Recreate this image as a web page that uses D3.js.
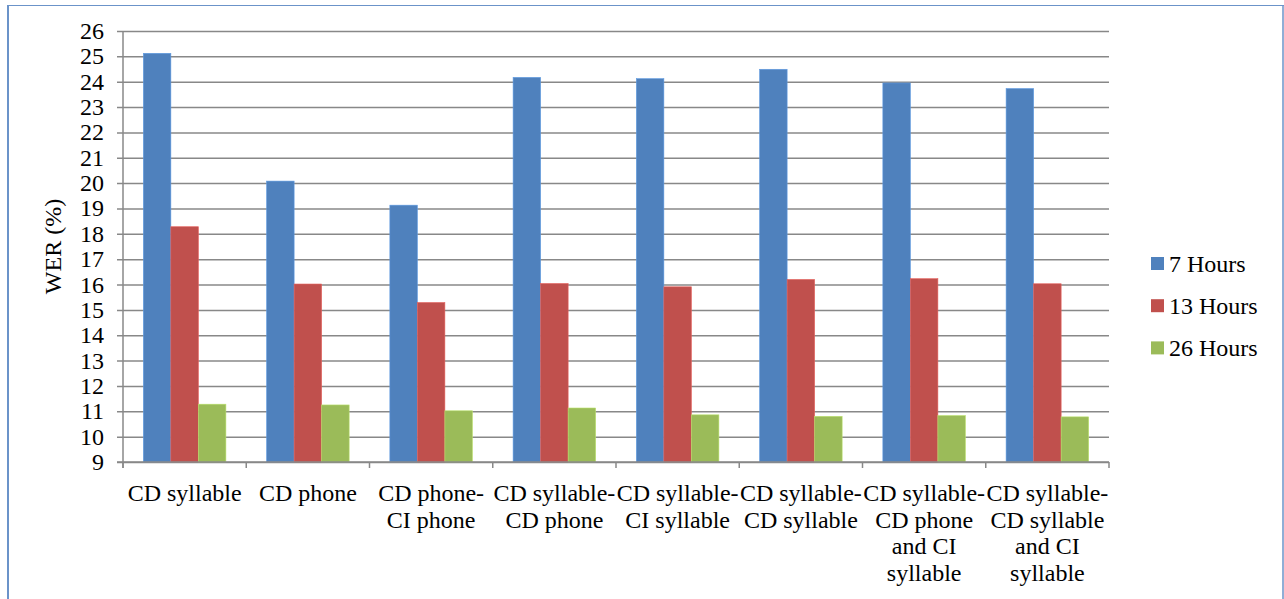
<!DOCTYPE html>
<html>
<head>
<meta charset="utf-8">
<script src="https://cdn.jsdelivr.net/npm/d3@7"></script>
<style>
  text { font-family: "Liberation Serif", "Times New Roman", Tinos, serif !important; }
</style>
</head>
<body style="margin:0;background:#fff">
<svg id="chart" width="1284" height="599" style="display:block" font-family="Liberation Serif"></svg>
<script>
// Acoustic unit configurations (x categories), one label line per entry
const categories = [
  "CD syllable",
  "CD phone",
  "CD phone-CI phone",
  "CD syllable-CD phone",
  "CD syllable-CI syllable",
  "CD syllable-CD syllable",
  "CD syllable-CD phone and CI syllable",
  "CD syllable-CD syllable and CI syllable"
];
const categoryLines = [
  ["CD syllable"],
  ["CD phone"],
  ["CD phone-", "CI phone"],
  ["CD syllable-", "CD phone"],
  ["CD syllable-", "CI syllable"],
  ["CD syllable-", "CD syllable"],
  ["CD syllable-", "CD phone", "and CI", "syllable"],
  ["CD syllable-", "CD syllable", "and CI", "syllable"]
];

// Training data sizes (series)
const seriesNames = ["7 Hours", "13 Hours", "26 Hours"];
const seriesColors = ["#4F81BD", "#C0504D", "#9BBB59"];

// WER (%) per configuration for each training size
const wer7h  = [25.12, 20.08, 19.13, 24.17, 24.12, 24.49, 23.95, 23.73];
const wer13h = [18.28, 16.02, 15.29, 16.04, 15.91, 16.20, 16.23, 16.03];
const wer26h = [11.28, 11.25, 11.02, 11.13, 10.86, 10.80, 10.83, 10.78];

// Y axis tick labels
const yTicks = [9, 10, 11, 12, 13, 14, 15, 16, 17, 18, 19, 20, 21, 22, 23, 24, 25, 26];

const seriesValues = [wer7h, wer13h, wer26h];

const FONT = "Liberation Serif";
const FS = 24;
const svg = d3.select("#chart");
const plot = { left: 123, right: 1109, top: 31, bottom: 462 };
const gridColor = "#888888";

// Serif text helper
function serif(sel) {
  return sel.attr("font-size", FS).attr("font-family", FONT).style("font-family", FONT).attr("fill", "#000");
}

// Outer chart frame
svg.append("line").attr("x1", 8).attr("x2", 8).attr("y1", 5).attr("y2", 599)
  .attr("stroke", "#6b93c9").attr("stroke-width", 2);
svg.append("line").attr("x1", 7).attr("x2", 1284).attr("y1", 5.5).attr("y2", 5.5)
  .attr("stroke", "#6b93c9").attr("stroke-width", 1.2);
svg.append("line").attr("x1", 1283).attr("x2", 1283).attr("y1", 5).attr("y2", 599)
  .attr("stroke", "#6b93c9").attr("stroke-width", 1.5);

const x0 = d3.scaleBand().domain(categories).range([plot.left, plot.right]).padding(0);
const x1 = d3.scaleBand().domain(seriesNames).range([0, x0.bandwidth()])
  .paddingInner(0).paddingOuter(0.74);
const y = d3.scaleLinear().domain([yTicks[0], yTicks[yTicks.length - 1]])
  .range([plot.bottom, plot.top]);

// Horizontal gridlines with left tick marks
const yAxis = d3.axisLeft(y).tickValues(yTicks).tickSize(-(plot.right - plot.left))
  .tickSizeOuter(0).tickFormat("");
const gy = svg.append("g").attr("transform", `translate(${plot.left},0)`).call(yAxis);
gy.attr("font-family", FONT);
gy.select(".domain").remove();
gy.selectAll(".tick text").remove();
gy.selectAll(".tick line").attr("stroke", gridColor).attr("stroke-width", 1.5).attr("x1", -6);

// Y tick labels
serif(svg.append("g").selectAll("text").data(yTicks).join("text"))
  .attr("x", 104)
  .attr("y", d => y(d) + 8)
  .attr("text-anchor", "end")
  .text(d => d);

// Bars
const groups = svg.append("g").selectAll("g")
  .data(categories).join("g")
  .attr("transform", d => `translate(${x0(d)},0)`);
groups.selectAll("rect")
  .data((d, i) => seriesNames.map((s, k) => ({ s, k, v: seriesValues[k][i] })))
  .join("rect")
  .attr("x", d => x1(d.s))
  .attr("y", d => y(d.v))
  .attr("width", x1.bandwidth())
  .attr("height", d => y(yTicks[0]) - y(d.v))
  .attr("fill", d => seriesColors[d.k])
  .attr("stroke", d => d3.color(seriesColors[d.k]).brighter(0.5))
  .attr("stroke-width", 0.6);

// Axis lines
svg.append("line").attr("x1", plot.left - 6).attr("x2", plot.right)
  .attr("y1", plot.bottom).attr("y2", plot.bottom)
  .attr("stroke", gridColor).attr("stroke-width", 1.5);
svg.append("line").attr("x1", plot.left).attr("x2", plot.left)
  .attr("y1", plot.top).attr("y2", plot.bottom + 6)
  .attr("stroke", gridColor).attr("stroke-width", 1.5);

// Category boundary ticks on the x axis
const boundaries = categories.map(c => x0(c)).concat([plot.right]);
svg.append("g").selectAll("line").data(boundaries).join("line")
  .attr("x1", d => d).attr("x2", d => d)
  .attr("y1", plot.bottom).attr("y2", plot.bottom + 6)
  .attr("stroke", gridColor).attr("stroke-width", 1.5);

// Wrapped category labels, one text per line
categories.forEach((c, i) => {
  categoryLines[i].forEach((line, j) => {
    serif(svg.append("text"))
      .attr("text-anchor", "middle")
      .attr("x", x0(c) + x0.bandwidth() / 2)
      .attr("y", 501 + j * 26.7)
      .text(line);
  });
});

// Y axis title
serif(svg.append("text"))
  .attr("transform", `translate(61,${(plot.top + plot.bottom) / 2}) rotate(-90)`)
  .attr("text-anchor", "middle")
  .text("WER (%)");

// Legend
seriesNames.forEach((s, i) => {
  const cy = 263.5 + i * 42.2;
  svg.append("rect")
    .attr("x", 1151).attr("y", cy - 6.5).attr("width", 13).attr("height", 13)
    .attr("fill", seriesColors[i]);
  serif(svg.append("text"))
    .attr("x", 1169).attr("y", cy + 8)
    .text(s);
});
</script>
</body>
</html>
